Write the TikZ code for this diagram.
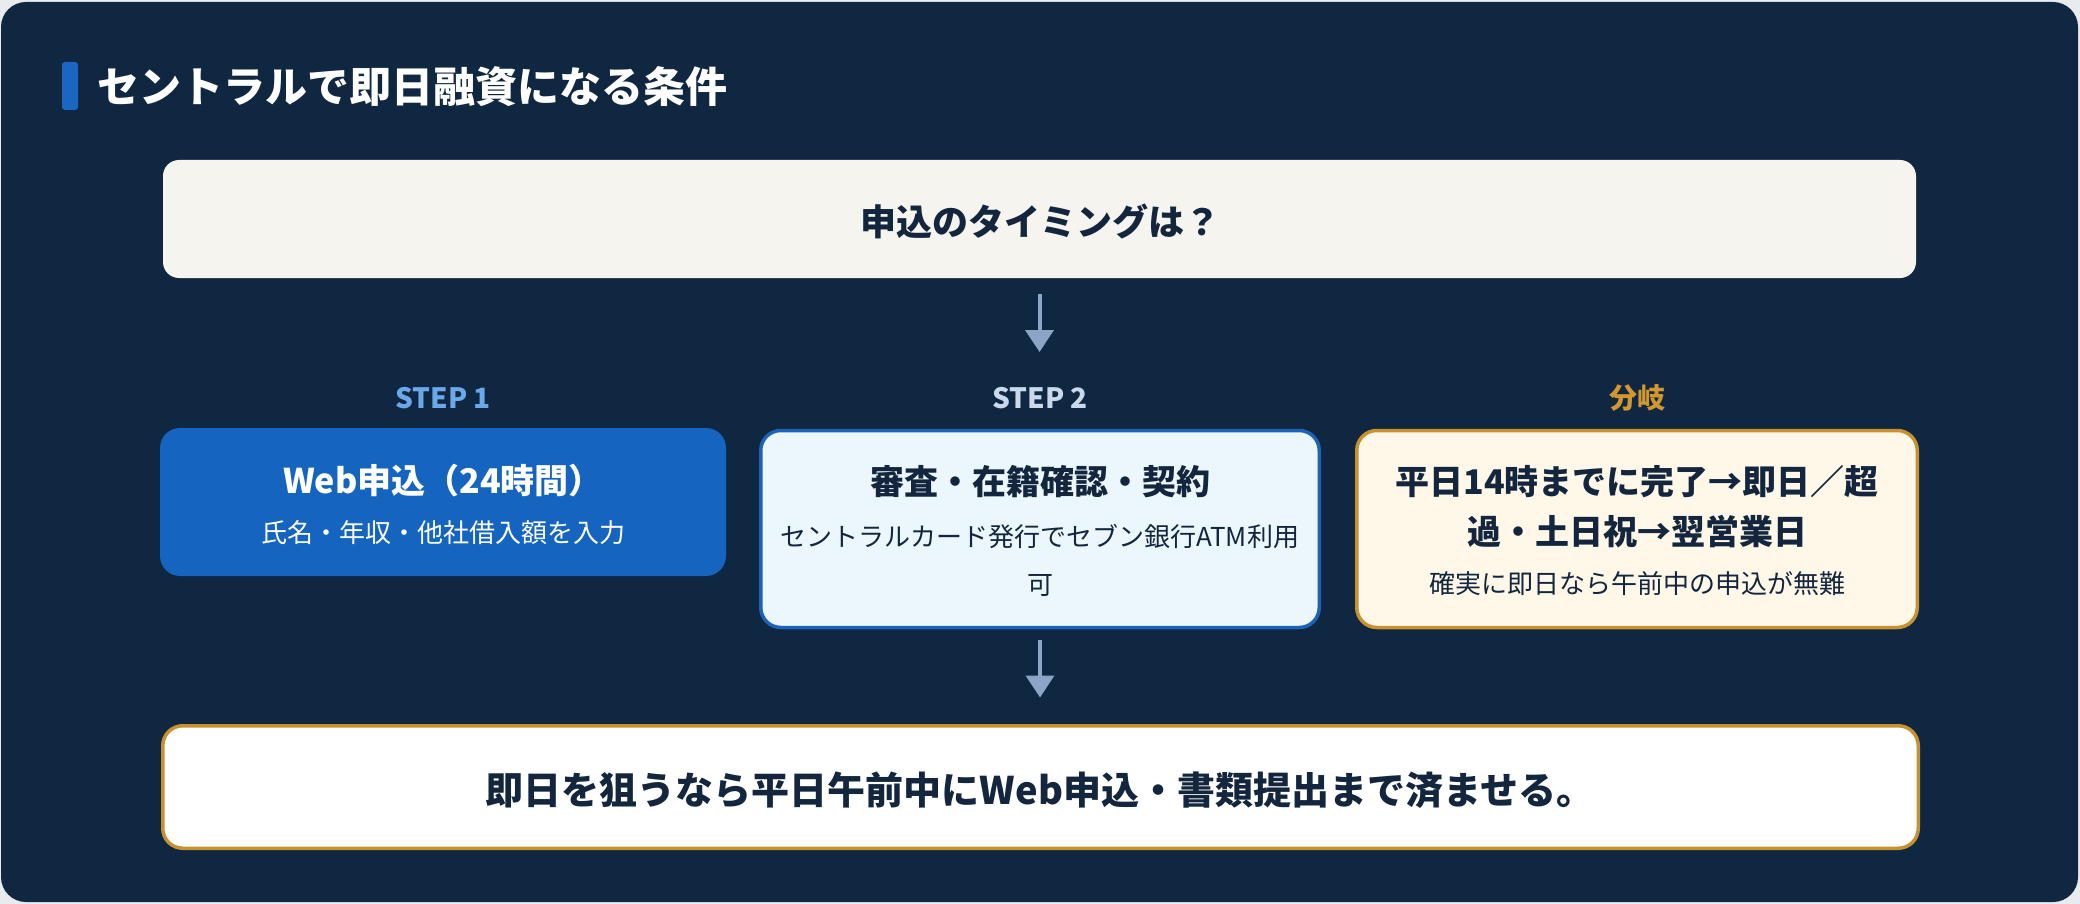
\documentclass[tikz,border=0pt]{standalone}
\usepackage{fontspec}
\setmainfont{Noto Sans CJK JP}
\usetikzlibrary{arrows.meta,calc}
\definecolor{pagebg}{HTML}{E9ECEF}
\definecolor{navy}{HTML}{0F2740}
\definecolor{accent}{HTML}{1A66C2}
\definecolor{stepafill}{HTML}{1565C0}
\definecolor{stepbfill}{HTML}{EBF7FD}
\definecolor{stepbline}{HTML}{1C62B6}
\definecolor{goldline}{HTML}{C8912F}
\definecolor{creamfill}{HTML}{FFF8E9}
\definecolor{topfill}{HTML}{F5F4EF}
\definecolor{ink}{HTML}{13263E}
\definecolor{arrowc}{HTML}{8CA5C6}
\definecolor{lblone}{HTML}{6AA8EA}
\definecolor{lbltwo}{HTML}{CAD8EB}
\definecolor{lblthree}{HTML}{D4962E}
\newcommand{\fsz}[2]{\fontsize{#1}{#2}\selectfont}
\begin{document}
\begin{tikzpicture}[x=1pt,y=-1pt,
  boxshape/.style={rectangle, rounded corners=18pt, inner sep=0pt, outer sep=0pt},
  steplbl/.style={inner sep=0pt, font=\bfseries\fsz{28}{34}},
  headtxt/.style={inner sep=0pt, font=\bfseries\fsz{34}{50}, text=ink, align=center},
  subtxt/.style={inner sep=0pt, font=\fsz{26}{48}, text=ink, align=center},
  flow/.style={draw=arrowc, line width=4pt, -{Triangle[length=22pt,width=28pt]}}]
\useasboundingbox (0,0) rectangle (2080,904);
\fill[pagebg] (0,0) rectangle (2080,904);
\fill[navy, rounded corners=25pt] (1,2) rectangle (2078,902);
% title
\fill[accent, rounded corners=3pt] (62,62) rectangle (78,110);
\node[anchor=west, inner sep=0pt, text=white, font=\bfseries\fsz{42}{50}] (title) at (97,87) {セントラルで即日融資になる条件};
% top question
\node[boxshape, fill=topfill, minimum width=1753pt, minimum height=118pt, rounded corners=16pt] (top) at (1039.5,219) {};
\node[inner sep=0pt, text=ink, font=\bfseries\fsz{36}{44}] (toptxt) at (1040,221) {申込のタイミングは？};
% labels
\node[steplbl, text=lblone] (lab1) at (443,398) {STEP 1};
\node[steplbl, text=lbltwo] (lab2) at (1040,398) {STEP 2};
\node[steplbl, text=lblthree] (lab3) at (1637,398) {分岐};
% box 1
\node[boxshape, fill=stepafill, minimum width=566pt, minimum height=148pt, rounded corners=20pt] (b1) at (443,502) {};
\node[headtxt, text=white] (b1t) at (443,481) {Web申込（24時間）};
\node[subtxt, text=white] (b1s) at (443,533) {氏名・年収・他社借入額を入力};
% box 2
\node[boxshape, draw=stepbline, line width=3.5pt, fill=stepbfill, minimum width=558.5pt, minimum height=197pt, rounded corners=20pt] (b2) at (1040,529) {};
\node[headtxt] (b2t) at (1040,482) {審査・在籍確認・契約};
\node[subtxt] (b2s) at (1040,560) {セントラルカード発行でセブン銀行ATM利用\\可};
% box 3
\node[boxshape, draw=goldline, line width=3.5pt, fill=creamfill, minimum width=560.5pt, minimum height=197pt, rounded corners=20pt] (b3) at (1637,529) {};
\node[headtxt] (b3t) at (1637,507) {平日14時までに完了→即日／超\\過・土日祝→翌営業日};
\node[subtxt] (b3s) at (1637,584) {確実に即日なら午前中の申込が無難};
% bottom
\node[boxshape, draw=goldline, line width=3.5pt, fill=white, minimum width=1755.5pt, minimum height=122.5pt, rounded corners=20pt] (bot) at (1040.5,787) {};
\node[inner sep=0pt, text=ink, font=\bfseries\fsz{38}{46}] (bottxt) at (1040,790) {即日を狙うなら平日午前中にWeb申込・書類提出まで済ませる。};
% arrows
\draw[flow] ($(top.south)+(0,16)$) -- ($(top.south)+(0,74)$);
\draw[flow] ($(b2.south)+(0,12)$) -- ($(b2.south)+(0,70)$);
\end{tikzpicture}
\end{document}
